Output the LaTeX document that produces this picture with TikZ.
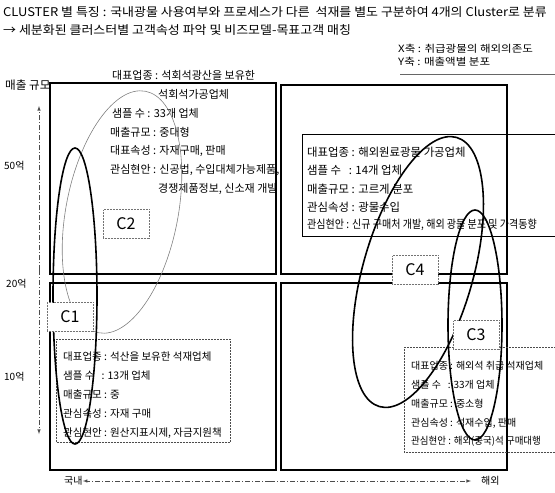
\documentclass[tikz,border=0pt]{standalone}
\usepackage{fontspec}
\setmainfont{Noto Sans CJK KR}
\newfontfamily\kr{Noto Sans CJK KR}
\newfontfamily\krwide{Noto Sans CJK KR}[FakeStretch=1.08]
\newfontfamily\krax{Noto Sans CJK KR}[FakeStretch=1.15]
\newfontfamily\krnarrow{Noto Sans CJK KR}[FakeStretch=0.88]
\newfontfamily\krnarrowb{Noto Sans CJK KR}[FakeStretch=0.95]
\begin{document}
\begin{tikzpicture}[x=1pt,y=1pt,
  font=\kr\fontsize{11}{13}\selectfont,
  quad/.style={draw=black, line width=1.5pt},
  txt/.style={anchor=west, inner sep=0pt},
  tl/.style={anchor=west, inner sep=0pt, font=\kr\fontsize{11}{13}\selectfont},
  tr/.style={anchor=west, inner sep=0pt, font=\kr\fontsize{11.4}{13}\selectfont},
  bl/.style={anchor=west, inner sep=0pt, font=\kr\fontsize{10.5}{12}\selectfont},
  br/.style={anchor=west, inner sep=0pt, font=\kr\fontsize{10}{12}\selectfont},
  titletxt/.style={anchor=west, inner sep=0pt, font=\krwide\fontsize{12}{14}\selectfont},
  small/.style={anchor=west, inner sep=0pt, font=\kr\fontsize{10}{11}\selectfont},
  infobox/.style={draw=black!70, line width=0.5pt, densely dotted},
  infoboxsolid/.style={draw=black, line width=0.6pt},
  lbl/.style={draw=black!55, densely dotted, line width=0.5pt, fill=white, minimum width=46pt, minimum height=29pt, inner sep=0pt, font=\kr\fontsize{16}{16}\selectfont},
  ellthick/.style={draw=black, line width=1.6pt},
  ellthin/.style={draw=black!50, line width=0.6pt},
  axisline/.style={draw=black!70, line width=0.6pt, dash pattern=on 5pt off 2pt on 1pt off 2pt, -latex}
]
\useasboundingbox (0,0) rectangle (555,-493);

% titles
\node[titletxt] (t1) at (3,-12) {CLUSTER 별 특징 : 국내광물 사용여부와 프로세스가 다른\ \ 석재를 별도 구분하여 4개의 Cluster로 분류};
\node[titletxt] (t2) at (3,-30) {→ 세분화된 클러스터별 고객속성 파악 및 비즈모델-목표고객 매칭};

% axis legend
\node[txt, font=\krax\fontsize{10}{11}\selectfont] (xax) at (398,-49) {X축 : 취급광물의 해외의존도};
\node[txt, font=\krax\fontsize{10}{11}\selectfont] (yax) at (398,-62) {Y축 : 매출액별 분포};
\coordinate (ul1) at (400,-74);
\coordinate (ul2) at (555,-74);
\draw[black!60, line width=0.6pt] (ul1) -- (ul2);

% quadrants
\draw[quad] (50,-83) rectangle (276,-274);
\draw[quad] (281,-85) rectangle (507,-274);
\draw[quad] (50,-283) rectangle (276,-470);
\draw[quad] (281,-283) rectangle (507,-470);

% y axis
\node[txt, font=\kr\fontsize{11.6}{13}\selectfont] (ylab) at (5,-85) {매출 규모};
\node[small] (y50) at (4,-166) {50억};
\node[small] (y20) at (6,-284) {20억};
\node[small] (y10) at (4,-377) {10억};
\coordinate (ymid) at (39,-270);
\coordinate (ytop) at (39,-106);
\coordinate (ybot) at (39,-434);
\draw[axisline] (ymid) -- (ytop);
\draw[axisline] (ymid) -- (ybot);

% x axis
\node[small] (xdom) at (64,-481) {국내};
\node[small] (xfor) at (481,-481) {해외};
\coordinate (xmid) at (270,-481);
\draw[axisline] (xmid) -- (xdom.east);
\draw[axisline] (xmid) -- ([xshift=-10pt]xfor.west);

% C2 info (top-left)
\node[tl] (a1) at (112,-75) {대표업종 : 석회석광산을 보유한};
\node[tl] (a2) at (158,-94) {석회석가공업체};
\node[tl] (a3) at (112,-113) {샘플 수 : 33개 업체};
\node[tl] (a4) at (110,-132) {매출규모 : 중대형};
\node[tl] (a5) at (110,-151) {대표속성 : 자재구매, 판매};
\node[tl] (a6) at (110,-170) {관심현안 : 신공법, 수입대체가능제품,};
\node[tl] (a7) at (158,-189) {경쟁제품정보, 신소재 개발};

% C4 info (top-right)
\draw[infoboxsolid] (560,-134) -- (302,-134) -- (302,-236) -- (560,-236);
\node[tr] (b1) at (307,-152) {대표업종 : 해외원료광물 가공업체};
\node[tr] (b2) at (307,-170) {샘플 수\ \ \ : 14개 업체};
\node[tr] (b3) at (307,-189) {매출규모 : 고르게 분포};
\node[tr] (b4) at (307,-207) {관심속성 : 광물수입};
\node[tr, font=\krnarrow\fontsize{11.4}{13}\selectfont] (b5) at (307,-225) {관심현안 : 신규 구매처 개발, 해외 광물 분포 및 가격동향};

% C1 info (bottom-left)
\draw[infobox] (56,-339) rectangle (230,-442);
\node[bl] (c1) at (63,-357) {대표업종 : 석산을 보유한 석재업체};
\node[bl] (c2) at (63,-376) {샘플 수\ \ \ : 13개 업체};
\node[bl] (c3) at (63,-395) {매출규모 : 중};
\node[bl] (c4) at (63,-414) {관심속성 : 자재 구매};
\node[bl] (c5) at (63,-433) {관심현안 : 원산지표시제, 자금지원책};

% C3 info (bottom-right)
\draw[infobox] (560,-347) -- (404,-347) -- (404,-452) -- (560,-452);
\node[br] (d1) at (411,-366) {대표업종 : 해외석 취급 석재업체};
\node[br] (d2) at (411,-385) {샘플 수\ \ \ : 33개 업체};
\node[br] (d3) at (411,-404) {매출규모 : 중소형};
\node[br] (d4) at (411,-423) {관심속성 : 석재수입, 판매};
\node[br, font=\krnarrowb\fontsize{10}{12}\selectfont] (d5) at (411,-441) {관심현안 : 해외(중국)석 구매대행};

% cluster ellipses
\draw[ellthin] (122,-212) ellipse[x radius=56, y radius=123, rotate=-11];
\draw[ellthick] (75,-296) ellipse[x radius=22, y radius=148];
\draw[ellthick] (418,-272) ellipse[x radius=55, y radius=140, rotate=-16];
\draw[ellthick] (475,-325) ellipse[x radius=27, y radius=115];

% cluster labels
\node[lbl] (C2) at (126,-224) {C2};
\node[lbl] (C1) at (70,-317) {C1};
\node[lbl] (C4) at (415,-270) {C4};
\node[lbl] (C3) at (476,-335) {C3};
\end{tikzpicture}
\end{document}
